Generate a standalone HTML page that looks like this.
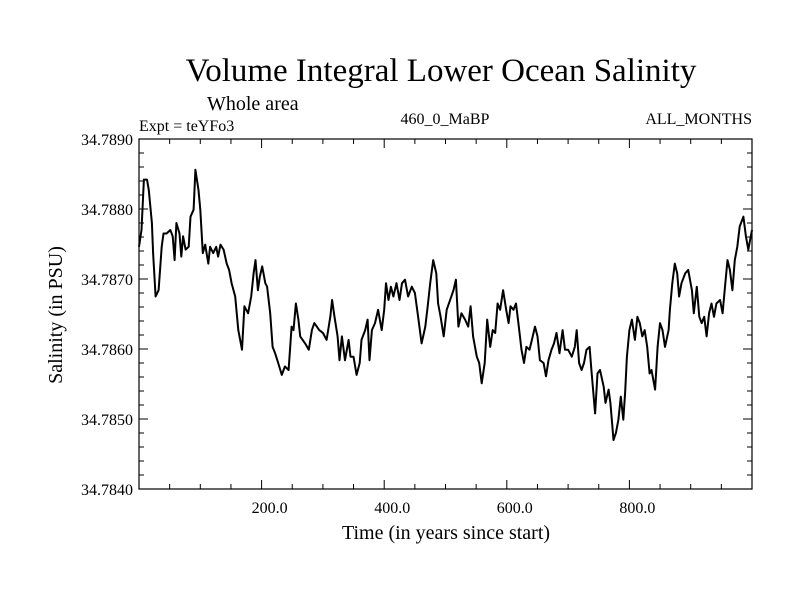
<!DOCTYPE html>
<html><head><meta charset="utf-8"><style>
html,body{margin:0;padding:0;background:#fff;}
svg{display:block;font-family:"Liberation Serif",serif;}
</style></head><body>
<svg id="chart" width="800" height="600" viewBox="0 0 800 600">
<text x="441" y="81" font-size="33" text-anchor="middle">Volume Integral Lower Ocean Salinity</text>
<text x="207" y="110" font-size="20">Whole area</text>
<text x="139" y="131" font-size="16">Expt = teYFo3</text>
<text x="445" y="124" font-size="16" text-anchor="middle">460_0_MaBP</text>
<text x="752" y="124" font-size="16" text-anchor="end">ALL_MONTHS</text>
<text x="446" y="539" font-size="20" text-anchor="middle">Time (in years since start)</text>
<text transform="translate(62,315) rotate(-90)" font-size="20" text-anchor="middle">Salinity (in PSU)</text>
<g id="axes"></g>
<rect x="139" y="139" width="613" height="350" fill="none" stroke="#000" stroke-width="1.2"/>
</svg>
<script>
const years = [0,4,8,13,16,21,23,27,32,37,40,45,51,55,58,61,66,69,72,76,81,84,89,92,97,100,104,108,113,116,121,126,129,133,138,143,147,151,157,162,168,172,178,183,187,190,194,197,201,206,209,214,218,222,227,233,238,244,249,252,256,260,263,271,277,282,286,290,294,300,306,312,315,319,324,327,331,336,342,345,350,355,360,363,369,373,376,380,385,390,396,400,403,407,411,415,420,425,429,434,439,445,450,456,461,467,471,475,480,485,488,492,497,502,513,517,521,526,532,537,541,545,551,555,559,564,568,573,577,581,585,589,594,599,603,606,611,615,619,624,628,632,637,641,646,650,654,660,664,668,673,677,681,686,691,695,700,706,711,714,718,722,726,730,735,738,744,748,752,758,761,766,769,774,778,782,786,790,793,796,800,804,809,813,817,821,825,829,833,836,842,846,850,854,858,864,866,870,874,878,881,885,891,896,902,905,910,914,918,922,926,930,934,938,942,948,952,956,960,964,968,972,976,980,986,990,994,998,1000];
const salinity = [34.78746,34.78770,34.78842,34.78842,34.78827,34.78780,34.78737,34.78675,34.78684,34.78746,34.78765,34.78765,34.78770,34.78761,34.78727,34.78780,34.78765,34.78732,34.78761,34.78742,34.78746,34.78789,34.78799,34.78856,34.78827,34.78799,34.78737,34.78749,34.78722,34.78746,34.78737,34.78746,34.78732,34.78749,34.78742,34.78722,34.78713,34.78694,34.78675,34.78627,34.78599,34.78661,34.78651,34.78675,34.78708,34.78727,34.78684,34.78703,34.78718,34.78694,34.78689,34.78651,34.78603,34.78594,34.78580,34.78563,34.78575,34.78570,34.78632,34.78627,34.78665,34.78642,34.78618,34.78608,34.78599,34.78627,34.78637,34.78632,34.78627,34.78623,34.78613,34.78646,34.78670,34.78646,34.78618,34.78584,34.78618,34.78584,34.78613,34.78589,34.78589,34.78563,34.78580,34.78613,34.78627,34.78642,34.78584,34.78627,34.78637,34.78656,34.78627,34.78656,34.78694,34.78670,34.78689,34.78675,34.78694,34.78670,34.78694,34.78699,34.78675,34.78689,34.78680,34.78642,34.78608,34.78632,34.78661,34.78694,34.78727,34.78708,34.78665,34.78646,34.78618,34.78656,34.78684,34.78699,34.78632,34.78651,34.78642,34.78632,34.78661,34.78618,34.78589,34.78580,34.78551,34.78580,34.78642,34.78603,34.78627,34.78623,34.78665,34.78656,34.78684,34.78656,34.78637,34.78661,34.78656,34.78665,34.78637,34.78599,34.78580,34.78603,34.78599,34.78613,34.78632,34.78618,34.78584,34.78580,34.78561,34.78584,34.78599,34.78608,34.78623,34.78594,34.78627,34.78599,34.78599,34.78589,34.78603,34.78627,34.78580,34.78570,34.78580,34.78599,34.78603,34.78570,34.78508,34.78565,34.78570,34.78546,34.78523,34.78542,34.78523,34.78470,34.78480,34.78499,34.78532,34.78499,34.78537,34.78589,34.78627,34.78642,34.78613,34.78646,34.78637,34.78618,34.78627,34.78603,34.78565,34.78570,34.78542,34.78603,34.78637,34.78627,34.78603,34.78627,34.78656,34.78694,34.78722,34.78708,34.78675,34.78694,34.78708,34.78713,34.78684,34.78651,34.78689,34.78646,34.78637,34.78646,34.78618,34.78651,34.78665,34.78646,34.78665,34.78670,34.78651,34.78689,34.78727,34.78713,34.78684,34.78727,34.78746,34.78775,34.78789,34.78761,34.78742,34.78761,34.78770];
const xTicks = [200,400,600,800];
const xTickLabels = ["200.0","400.0","600.0","800.0"];
const yTicks = [34.784,34.785,34.786,34.787,34.788,34.789];
const yTickLabels = ["34.7840","34.7850","34.7860","34.7870","34.7880","34.7890"];

const NS="http://www.w3.org/2000/svg";
const X0=139,X1=752,Y0=489,Y1=139;
const xs=v=>X0+(v-0)/(1000-0)*(X1-X0);
const ys=v=>Y0-(v-34.784)/(34.789-34.784)*(Y0-Y1);
const g=document.getElementById('axes');
function mk(tag,attrs){const e=document.createElementNS(NS,tag);for(const k in attrs)e.setAttribute(k,attrs[k]);g.appendChild(e);return e;}
for(let t=50;t<1000;t+=50){
  const major=t%200===0, L=major?9:5, x=xs(t);
  const a=mk('line',{x1:x,y1:Y0,x2:x,y2:Y0-L,stroke:'#000','stroke-width':1});
  
  
  const b=mk('line',{x1:x,y1:Y1,x2:x,y2:Y1+L,stroke:'#000','stroke-width':1});
  
  
}
for(let i=1;i<25;i++){
  const v=34.784+i*0.0002, major=i%5===0, L=major?9:5, y=ys(v);
  const a=mk('line',{x1:X0,y1:y,x2:X0+L,y2:y,stroke:'#000','stroke-width':1});
  
  
  const b=mk('line',{x1:X1,y1:y,x2:X1-L,y2:y,stroke:'#000','stroke-width':1});
  
  
}
xTicks.forEach((t,i)=>{
  const e=mk('text',{x:xs(t)+8,y:513,'font-size':16,'text-anchor':'middle'});
  e.textContent=xTickLabels[i];
  
  
});
yTicks.forEach((t,i)=>{
  const e=mk('text',{x:133,y:ys(t)+6,'font-size':16,'text-anchor':'end'});
  e.textContent=yTickLabels[i];
  
  
});
const d=years.map((yr,i)=>(i?'L':'M')+xs(yr).toFixed(1)+','+ys(salinity[i]).toFixed(1)).join(' ');
const p=mk('path',{d:d,fill:'none',stroke:'#000','stroke-width':2,'stroke-linejoin':'round'});


</script>
</body></html>
